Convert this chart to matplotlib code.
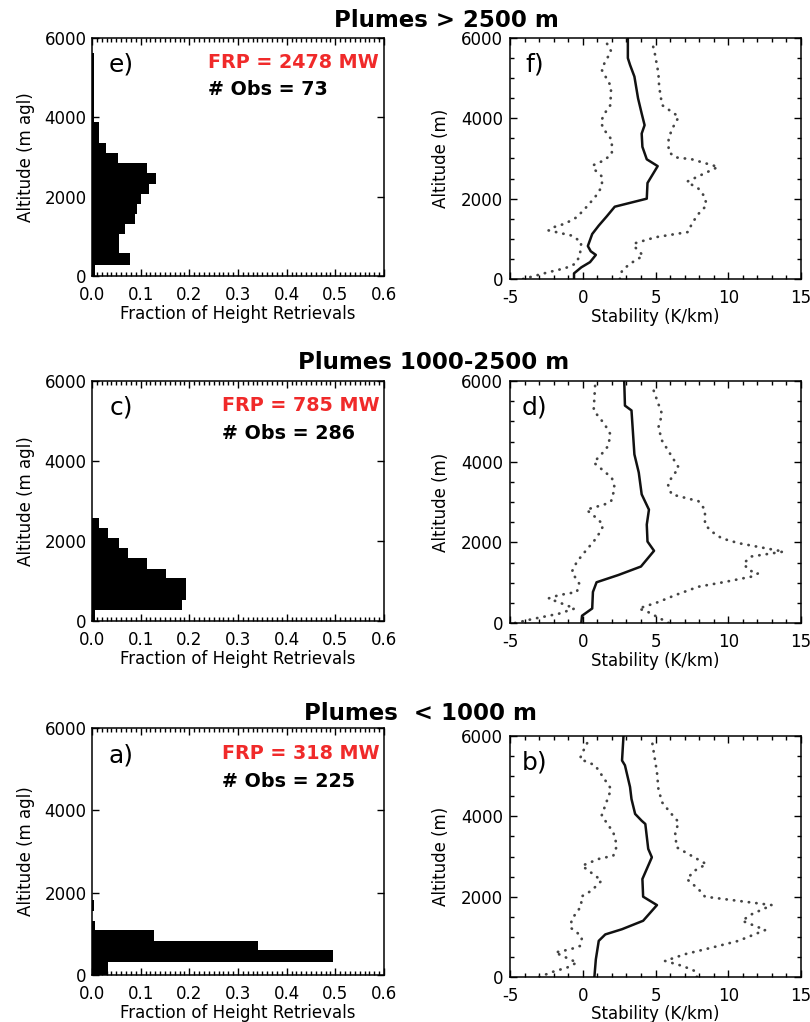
import numpy as np
import matplotlib
matplotlib.use('Agg')
import matplotlib.pyplot as plt
from matplotlib.ticker import MultipleLocator, FormatStrFormatter


# ================================================================================================
# data

group_titles = ['Plumes > 2500 m', 'Plumes 1000-2500 m', 'Plumes  < 1000 m']
hist_labels = ['e)', 'c)', 'a)']
prof_labels = ['f)', 'd)', 'b)']
frp_values = [2478, 785, 318]
obs_counts = [73, 286, 225]

# injection height histograms: bin edges (m agl) and fraction of retrievals
hist_e_edges = [0, 270, 590, 830, 1070, 1300, 1555, 1805, 2060, 2310, 2600, 2840, 3090, 3345, 3610, 3870, 5620]
hist_e_frac = [0.007, 0.079, 0.055, 0.055, 0.067, 0.088, 0.093, 0.101, 0.118, 0.132, 0.114, 0.053, 0.029,
               0.014, 0.014, 0.004]

hist_c_edges = [0, 275, 525, 800, 1065, 1300, 1565, 1815, 2065, 2315, 2585]
hist_c_frac = [0.007, 0.184, 0.194, 0.194, 0.153, 0.112, 0.074, 0.055, 0.032, 0.014]

hist_a_edges = [0, 315, 600, 825, 1090, 1310, 1555, 1820]
hist_a_frac = [0.033, 0.495, 0.342, 0.127, 0.007, 0.0, 0.004]

# stability profiles (K/km) vs altitude (m): mean and the two dotted envelopes
f_mean_alt = [0, 140, 290, 420, 600, 690, 820, 1120, 1330, 1560, 1800, 2000, 2390, 2810, 2980, 3290, 3620, 3830,
              4120, 4500, 5040, 5330, 5500, 6000]
f_mean_val = [-0.6, -0.6, -0.1, 0.5, 0.9, 0.55, 0.35, 0.65, 1.1, 1.65, 2.2, 4.4, 4.45, 5.15, 4.4, 4.1, 4.05, 4.25,
              4.05, 3.8, 3.55, 3.25, 3.1, 3.1]
f_lo_alt = [0, 170, 270, 380, 580, 920, 1080, 1210, 1290, 1380, 1540, 1790, 2040, 2290, 2540, 2710, 2830, 2960,
            3120, 3460, 3750, 3920, 4120, 4330, 4790, 5210, 5380, 5670, 5870, 5960]
f_lo_val = [-4.1, -2.35, -1.2, -0.5, -0.2, -0.1, -0.75, -2.35, -2.0, -1.2, -0.4, 0.25, 0.85, 1.3, 1.35, 0.85, 0.7,
            1.5, 2.0, 2.0, 1.4, 1.25, 1.5, 1.9, 1.95, 1.3, 1.5, 1.95, 1.65, 1.4]
f_hi_alt = [0, 210, 380, 580, 790, 880, 1040, 1170, 1380, 1620, 1830, 2040, 2250, 2420, 2790, 2980, 3030, 3170,
            3460, 3710, 4040, 4330, 4790, 5120, 5620, 5920]
f_hi_val = [2.55, 2.7, 3.25, 4.15, 3.6, 3.5, 5.0, 7.25, 7.5, 7.95, 8.5, 8.4, 7.95, 7.15, 9.3, 7.5, 6.35, 5.9,
            5.9, 6.1, 6.6, 5.45, 5.25, 5.2, 4.95, 4.75]

d_mean_alt = [0, 180, 360, 770, 1010, 1190, 1400, 1790, 2020, 2440, 2810, 3190, 3730, 4180, 5270, 5390, 6000]
d_mean_val = [-0.1, -0.05, 0.65, 0.7, 0.95, 2.45, 4.0, 4.9, 4.45, 4.4, 4.55, 4.05, 3.85, 3.55, 3.35, 2.9, 2.85]
d_lo_alt = [0, 110, 230, 360, 610, 690, 770, 980, 1150, 1270, 1520, 1810, 2020, 2310, 2440, 2600, 2810, 2940,
            3020, 3350, 3600, 3980, 4190, 4390, 4680, 4930, 5270, 5890]
d_lo_val = [-4.65, -3.3, -1.65, -0.55, -2.35, -1.65, -0.4, -0.25, -0.55, -0.75, -0.4, 0.25, 0.75, 1.3, 1.4, 0.95,
            0.25, 1.5, 1.95, 2.2, 2.0, 0.75, 1.3, 1.75, 1.9, 1.5, 0.75, 0.85]
d_hi_alt = [0, 270, 360, 520, 690, 900, 1020, 1150, 1230, 1310, 1480, 1650, 1770, 1980, 2100, 2270, 2440, 2810,
            3020, 3190, 3440, 3600, 3850, 4140, 4520, 4850, 5180, 5430, 5890]
d_hi_val = [5.9, 4.5, 3.85, 5.2, 6.35, 7.95, 9.8, 11.6, 12.05, 11.4, 11.05, 11.6, 13.8, 10.7, 9.55, 8.85, 8.4, 8.4,
            7.95, 6.1, 5.85, 6.1, 6.6, 6.1, 5.45, 5.2, 5.45, 5.2, 4.75]

b_mean_alt = [0, 440, 900, 1060, 1190, 1400, 1790, 2000, 2440, 2980, 3190, 3810, 3890, 4060, 4430, 4730, 5270,
              5390, 6000]
b_mean_val = [0.8, 0.9, 1.1, 1.55, 2.7, 4.15, 5.1, 4.15, 4.1, 4.75, 4.5, 4.3, 4.05, 3.6, 3.35, 3.25, 2.9, 2.7, 2.8]
b_lo_alt = [0, 150, 230, 360, 610, 690, 770, 980, 1110, 1230, 1440, 1770, 2000, 2150, 2400, 2770, 2940, 3020,
            3270, 3600, 4020, 4680, 5270, 5430, 5640, 5930]
b_lo_val = [-3.0, -1.9, -1.1, -0.4, -1.9, -0.85, -0.2, -0.05, -0.4, -0.85, -0.75, -0.1, -0.1, 0.6, 1.3, -0.05,
            1.1, 2.1, 2.35, 2.1, 1.3, 1.95, 0.85, -0.2, 0.05, 0.45]
b_hi_alt = [0, 150, 270, 400, 570, 730, 900, 1170, 1270, 1400, 1560, 1790, 2000, 2190, 2440, 2650, 2810, 2940,
            3230, 3600, 3850, 4100, 4350, 4680, 5100, 5890]
b_hi_val = [7.85, 7.7, 6.9, 5.65, 7.05, 8.85, 10.7, 12.55, 11.85, 10.95, 11.6, 13.0, 8.4, 7.95, 7.15, 7.7, 8.5,
            7.85, 6.45, 6.35, 6.6, 6.0, 5.45, 5.2, 5.1, 4.75]

hist_edges = [hist_e_edges, hist_c_edges, hist_a_edges]
hist_fracs = [hist_e_frac, hist_c_frac, hist_a_frac]
profiles = [
    ((f_mean_val, f_mean_alt), (f_lo_val, f_lo_alt), (f_hi_val, f_hi_alt)),
    ((d_mean_val, d_mean_alt), (d_lo_val, d_lo_alt), (d_hi_val, d_hi_alt)),
    ((b_mean_val, b_mean_alt), (b_lo_val, b_lo_alt), (b_hi_val, b_hi_alt)),
]


# ================================================================================================

plt.rcParams['font.family'] = ['DejaVu Sans']
plt.rcParams['axes.linewidth'] = 1.1
plt.rcParams['axes.unicode_minus'] = False

W, H = 810, 1022
fig = plt.figure(figsize=(W / 100, H / 100), dpi=100)


def px_axes(left, top, right, bottom):
    return fig.add_axes([left / W, 1 - bottom / H, (right - left) / W, (bottom - top) / H])


# pixel boxes of the panels, rows top to bottom
hist_boxes = [(92, 38, 384, 276), (92, 381, 384, 621), (92, 728, 384, 975)]
prof_boxes = [(510, 38, 801, 279), (510, 381, 801, 623), (510, 736, 801, 977)]
title_pos = [(446, 27), (434, 369), (420, 720)]
text_x = [0.397, 0.445, 0.445]

RED = '#f02a2a'


def style_ticks(ax):
    ax.tick_params(which='both', direction='in', top=True, right=True, labelsize=12, width=1.0)
    ax.tick_params(which='major', length=5)
    ax.tick_params(which='minor', length=3)
    ax.tick_params(axis='x', pad=7)
    ax.tick_params(axis='y', pad=4)


for i in range(3):
    # ---- histogram panel
    ax = px_axes(*hist_boxes[i])
    ax.stairs(hist_fracs[i], hist_edges[i], orientation='horizontal', fill=True, color='black', baseline=0)
    ax.set_xlim(0, 0.6)
    ax.set_ylim(0, 6000)
    ax.xaxis.set_major_locator(MultipleLocator(0.1))
    ax.xaxis.set_minor_locator(MultipleLocator(0.01))
    ax.xaxis.set_major_formatter(FormatStrFormatter('%.1f'))
    ax.yaxis.set_major_locator(MultipleLocator(2000))
    style_ticks(ax)
    ax.set_ylabel('Altitude (m agl)', fontsize=12, labelpad=7)
    ax.set_xlabel('Fraction of Height Retrievals', fontsize=12, labelpad=1)
    ax.text(0.10, 0.86, hist_labels[i], transform=ax.transAxes, fontsize=18, ha='center', va='baseline')
    ax.text(text_x[i], 0.875, 'FRP = %d MW' % frp_values[i], transform=ax.transAxes, fontsize=13.8,
            fontweight='bold', color=RED, ha='left', va='baseline')
    ax.text(text_x[i], 0.76, '# Obs = %d' % obs_counts[i], transform=ax.transAxes, fontsize=13.8,
            fontweight='bold', color='black', ha='left', va='baseline')

    # ---- stability panel
    ax = px_axes(*prof_boxes[i])
    (mv, ma), (lv, la), (hv, ha) = profiles[i]
    ax.plot(lv, la, color='#454545', lw=2.0, linestyle=(0, (0.1, 2.6)), dash_capstyle='round')
    ax.plot(hv, ha, color='#454545', lw=2.0, linestyle=(0, (0.1, 2.6)), dash_capstyle='round')
    ax.plot(mv, ma, color='#111111', lw=1.8)
    ax.set_xlim(-5, 15)
    ax.set_ylim(0, 6000)
    ax.xaxis.set_major_locator(MultipleLocator(5))
    ax.xaxis.set_minor_locator(MultipleLocator(1))
    ax.yaxis.set_major_locator(MultipleLocator(2000))
    ax.yaxis.set_minor_locator(MultipleLocator(500))
    style_ticks(ax)
    ax.tick_params(axis='y', pad=5)
    ax.set_ylabel('Altitude (m)', fontsize=12, labelpad=8)
    ax.set_xlabel('Stability (K/km)', fontsize=12, labelpad=0 if i == 2 else 1)
    ax.text(0.085, 0.86, prof_labels[i], transform=ax.transAxes, fontsize=18, ha='center', va='baseline')

    # ---- row title
    tx, ty = title_pos[i]
    fig.text(tx / W, 1 - ty / H, group_titles[i], fontsize=16.5, fontweight='bold', ha='center', va='baseline')

fig.savefig('out.png', dpi=100)
